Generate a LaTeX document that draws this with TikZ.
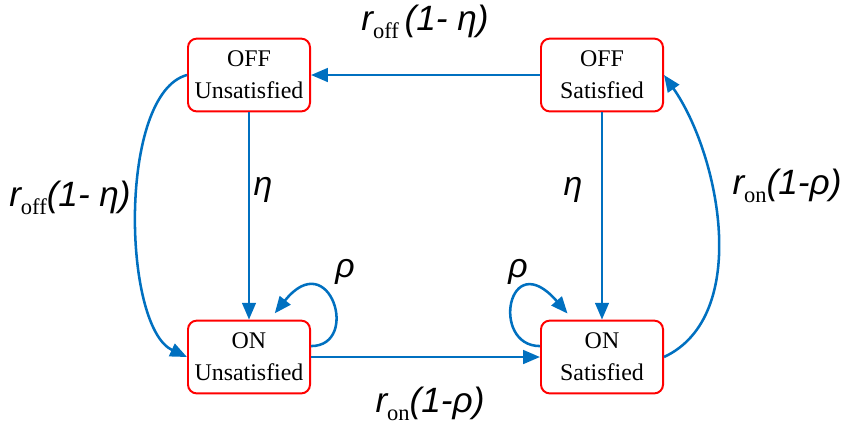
\documentclass[tikz,border=0pt]{standalone}
\usepackage{fontspec}
\setmainfont{Liberation Serif}
\newfontfamily\ratefont{Liberation Sans}
\usepackage{xcolor}
\usetikzlibrary{arrows.meta}
\definecolor{arrowblue}{RGB}{0,112,192}

\newcommand{\rsub}[1]{\raisebox{-0.5ex}{\fontsize{16}{16}\selectfont #1}}
\newcommand{\rlab}[2]{{\ratefont\itshape r}\rsub{#1}{\ratefont\itshape #2}}

\begin{document}
\begin{tikzpicture}[x=0.025cm,y=-0.025cm,
 state/.style={draw=red,line width=1.4pt,rounded corners=2.2mm,minimum width=3.05cm,minimum height=1.82cm,align=center,font=\fontsize{17}{23}\selectfont},
 trans/.style={-{Triangle[length=4.2mm,width=3.4mm]},draw=arrowblue,line width=1.8pt},
 rate/.style={font=\fontsize{25}{28}\selectfont,inner sep=1pt},
 prob/.style={font=\ratefont\itshape\fontsize{24}{28}\selectfont,inner sep=1pt}
]
\useasboundingbox (0,0) rectangle (846,430);

\node[state] (offu) at (249,75) {OFF\\Unsatisfied};
\node[state] (offs) at (602,75) {OFF\\Satisfied};
\node[state] (onu) at (249,357) {ON\\Unsatisfied};
\node[state] (ons) at (602,357) {ON\\Satisfied};

\draw[trans] (offs) -- (offu);
\draw[trans] (offu) -- (onu);
\draw[trans] (offs) -- (ons);
\draw[trans] (onu) -- (ons);
\draw[trans] (offu.west) to[out=195,in=155,looseness=0.65] (onu.west);
\draw[trans] (ons.east) to[out=25,in=-55,looseness=0.88] (offs.east);
\draw[trans,shorten >=2mm] (onu.10) .. controls +(50,0) and +(60,-75) .. (onu.61);
\draw[trans,shorten >=2mm] (ons.170) .. controls +(-50,0) and +(-65,-75) .. (ons.128);

\node[rate] (rtop) at (425,22) {\rlab{off}{\,(1- η)}};
\node[rate] (rleft) at (70,198) {\rlab{off}{(1- η)}};
\node[rate] (rright) at (787,186) {\rlab{on}{(1-ρ)}};
\node[rate] (rbottom) at (430,404) {\rlab{on}{(1-ρ)}};
\node[prob] (etal) at (263,190) {η};
\node[prob] (etar) at (573,190) {η};
\node[prob] (rhol) at (345,272) {ρ};
\node[prob] (rhor) at (518,272) {ρ};
\end{tikzpicture}
\end{document}
